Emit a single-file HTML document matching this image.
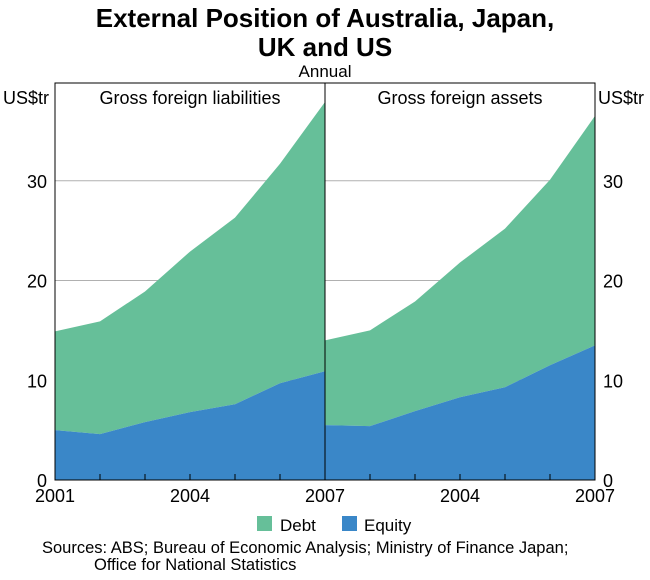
<!DOCTYPE html>
<html><head><meta charset="utf-8"><style>
body{margin:0;background:#fff;font-family:"Liberation Sans",sans-serif}
</style></head><body>
<svg id="c" width="650" height="575" xmlns="http://www.w3.org/2000/svg" font-family="Liberation Sans, sans-serif">
<text x="325" y="27" text-anchor="middle" font-size="26" font-weight="bold">External Position of Australia, Japan,</text>
<text x="325" y="56" text-anchor="middle" font-size="26" font-weight="bold">UK and US</text>
<text x="325" y="77" text-anchor="middle" font-size="17">Annual</text>
<g id="plot"></g>
<rect x="55" y="83" width="540" height="397" fill="none" stroke="#000" stroke-width="1"/>
<line x1="325" y1="83" x2="325" y2="480" stroke="#000"/>
<text x="3" y="104" font-size="18">US$tr</text>
<text x="598" y="104" font-size="18">US$tr</text>
<text x="190" y="104" text-anchor="middle" font-size="18">Gross foreign liabilities</text>
<text x="460" y="104" text-anchor="middle" font-size="18">Gross foreign assets</text>
<rect x="257" y="516" width="15" height="15" fill="#66bf99"/>
<text x="280" y="531" font-size="17">Debt</text>
<rect x="342" y="516" width="15" height="15" fill="#3a87c8"/>
<text x="364" y="531" font-size="17">Equity</text>
<text x="42" y="553" font-size="16.5">Sources: ABS; Bureau of Economic Analysis; Ministry of Finance Japan;</text>
<text x="94" y="570" font-size="16.5">Office for National Statistics</text>
</svg>
<script>
const years=[2001,2002,2003,2004,2005,2006,2007];
const liabEquity=[5.0,4.6,5.8,6.8,7.6,9.7,10.9];
const liabDebt=[9.9,11.3,13.1,16.1,18.7,22.0,27.0];
const assetEquity=[5.5,5.4,6.9,8.3,9.3,11.5,13.5];
const assetDebt=[8.5,9.6,11.0,13.5,15.9,18.6,23.0];
const yTicks=[0,10,20,30];
const xLabelsLeft=["2001","2004","2007"];
const xLabelsRight=["2004","2007"];
const NS="http://www.w3.org/2000/svg";
const g=document.getElementById('plot');
const y0=480,yTop=83,yMax=39.8;
const ys=v=>y0-v/yMax*(y0-yTop);
function xs(panel,yr){const l=panel?325:55;return l+(yr-2001)/6*270;}
function mk(t,a){const e=document.createElementNS(NS,t);for(const k in a)e.setAttribute(k,a[k]);g.appendChild(e);return e;}
yTicks.forEach(v=>{
 if(v>0){const l=mk('line',{x1:55,x2:595,y1:ys(v),y2:ys(v),stroke:'#b0b0b0','stroke-width':1});
 
 }
 const t1=mk('text',{x:47,y:ys(v)+7,'text-anchor':'end','font-size':18});t1.textContent=v;
 
 
 const t2=mk('text',{x:603,y:ys(v)+7,'font-size':18});t2.textContent=v;
 
 
});
function area(panel,lo,hi,col,name){
 let p=years.map((yr,i)=>xs(panel,yr)+','+ys(lo[i]+hi[i]));
 let q=years.slice().reverse().map((yr,j)=>{const i=years.length-1-j;return xs(panel,yr)+','+ys(lo[i]);});
 const e=mk('polygon',{points:p.concat(q).join(' '),fill:col});
 
 
}
const zeros=years.map(()=>0);
area(0,liabEquity,liabDebt,'#66bf99','liabilities-debt-area');
area(0,zeros,liabEquity,'#3a87c8','liabilities-equity-area');
area(1,assetEquity,assetDebt,'#66bf99','assets-debt-area');
area(1,zeros,assetEquity,'#3a87c8','assets-equity-area');
[0,1].forEach(p=>{
 years.forEach(yr=>{const l=mk('line',{x1:xs(p,yr),x2:xs(p,yr),y1:480,y2:474,stroke:'#000'});
 
 });
 (p?xLabelsRight:xLabelsLeft).forEach(s=>{const t=mk('text',{x:xs(p,+s),y:502,'text-anchor':'middle','font-size':18});t.textContent=s;
 
 });
});
</script>
</body></html>
